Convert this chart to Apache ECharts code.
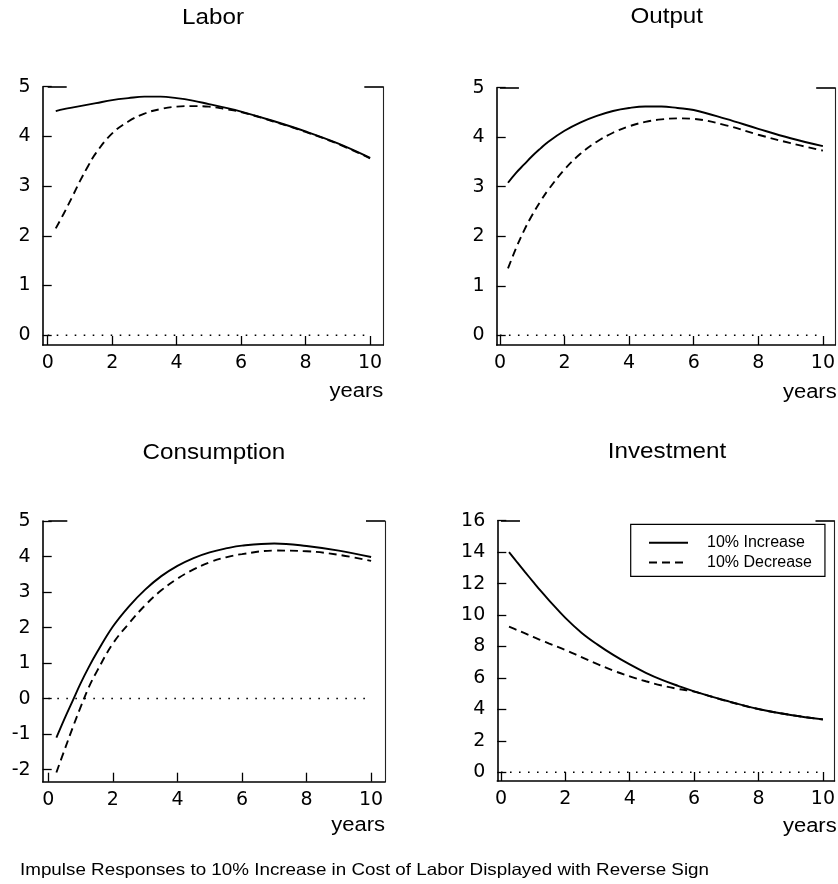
<!DOCTYPE html>
<html>
<head>
<meta charset="utf-8">
<script src="https://cdn.jsdelivr.net/npm/echarts@6/dist/echarts.min.js"></script>
<style>
html,body{margin:0;padding:0;background:#fff;}
#chart{width:838px;height:884px;}
</style>
</head>
<body>
<div id="chart"></div>
<script>
// ---- data ----
const years = [0.25, 0.5, 0.75, 1, 1.25, 1.5, 2, 2.5, 3, 3.5, 4, 4.5, 5, 5.5, 6, 7, 8, 9, 10];

const laborUp   = [4.51, 4.55, 4.58, 4.61, 4.64, 4.67, 4.73, 4.77, 4.80, 4.80, 4.77, 4.72, 4.65, 4.58, 4.50, 4.31, 4.10, 3.86, 3.57];
const laborDown = [2.15, 2.45, 2.77, 3.10, 3.40, 3.67, 4.06, 4.30, 4.46, 4.55, 4.60, 4.61, 4.60, 4.55, 4.49, 4.30, 4.09, 3.85, 3.56];

const outputUp   = [3.08, 3.28, 3.45, 3.62, 3.77, 3.91, 4.13, 4.30, 4.43, 4.53, 4.59, 4.62, 4.62, 4.59, 4.55, 4.37, 4.17, 3.98, 3.82];
const outputDown = [1.35, 1.76, 2.12, 2.43, 2.70, 2.94, 3.35, 3.67, 3.91, 4.09, 4.22, 4.31, 4.36, 4.38, 4.37, 4.24, 4.05, 3.88, 3.73];

const consUp   = [-1.10, -0.57, -0.07, 0.43, 0.88, 1.29, 2.03, 2.60, 3.07, 3.45, 3.74, 3.96, 4.12, 4.23, 4.31, 4.37, 4.30, 4.17, 3.99];
const consDown = [-2.08, -1.45, -0.83, -0.24, 0.31, 0.76, 1.55, 2.12, 2.63, 3.05, 3.38, 3.64, 3.84, 3.98, 4.07, 4.17, 4.15, 4.05, 3.88];

const invUp   = [14.0, 13.36, 12.73, 12.11, 11.50, 10.92, 9.82, 8.88, 8.12, 7.45, 6.86, 6.33, 5.88, 5.50, 5.15, 4.55, 4.03, 3.65, 3.37];
const invDown = [9.26, 9.05, 8.83, 8.61, 8.40, 8.19, 7.78, 7.33, 6.88, 6.46, 6.10, 5.79, 5.52, 5.30, 5.13, 4.54, 4.02, 3.65, 3.36];

const zeroLineX = [0, 10];

const xTicks = [0, 2, 4, 6, 8, 10];
const yTicksLabor = [0, 1, 2, 3, 4, 5];
const yTicksOutput = [0, 1, 2, 3, 4, 5];
const yTicksCons = [-2, -1, 0, 1, 2, 3, 4, 5];
const yTicksInv = [0, 2, 4, 6, 8, 10, 12, 14, 16];

const titles = ['Labor', 'Output', 'Consumption', 'Investment'];
const legendNames = ['10% Increase', '10% Decrease'];
const xName = 'years';
const caption = 'Impulse Responses to 10% Increase in Cost of Labor Displayed with Reverse Sign';

// ---- layout / styles ----
const FONT = "'Liberation Sans', Arial, Helvetica, sans-serif";
const TICKFONT = "'DejaVu Sans', 'Liberation Sans', sans-serif";
const panels = [
  {up: laborUp,  down: laborDown,  ticks: yTicksLabor,  left: 42.7,  top: 86.7,  right: 383.3, bottom: 345,   xmin: -0.155, xmax: 10.41, ymin: -0.196, ymax: 5},
  {up: outputUp, down: outputDown, ticks: yTicksOutput, left: 496.7, top: 87.7,  right: 836.7, bottom: 345,   xmin: -0.10,  xmax: 10.38, ymin: -0.196, ymax: 5},
  {up: consUp,   down: consDown,   ticks: yTicksCons,   left: 42.7,  top: 521.1, right: 385,   bottom: 781.7, xmin: -0.174, xmax: 10.43, ymin: -2.34,  ymax: 5},
  {up: invUp,    down: invDown,    ticks: yTicksInv,    left: 497.3, top: 520.7, right: 836.7, bottom: 781,   xmin: -0.114, xmax: 10.36, ymin: -0.55,  ymax: 16}
];
const titleY = [18, 17, 453, 452];
const yearsY = [391, 392, 825, 826];

const grid = [], xAxis = [], yAxis = [], series = [], graphic = [];
const lineW = 1.9;

panels.forEach((p, i) => {
  grid.push({left: p.left, top: p.top, width: p.right - p.left, height: p.bottom - p.top, containLabel: false});
  xAxis.push({
    type: 'value', gridIndex: i, min: p.xmin, max: p.xmax,
    splitLine: {show: false},
    axisLine: {show: true, onZero: false, lineStyle: {color: '#000', width: 1.6}},
    axisTick: {show: true, inside: true, length: 9, customValues: xTicks, lineStyle: {color: '#000', width: 1.3}},
    axisLabel: {show: true, customValues: xTicks, margin: 9, fontSize: 19, color: '#000', fontFamily: TICKFONT}
  });
  yAxis.push({
    type: 'value', gridIndex: i, min: p.ymin, max: p.ymax, position: 'left',
    splitLine: {show: false},
    axisLine: {show: true, onZero: false, lineStyle: {color: '#000', width: 1.6}},
    axisTick: {show: true, inside: true, length: 9, customValues: p.ticks, lineStyle: {color: '#000', width: 1.3}},
    axisLabel: {show: true, customValues: p.ticks, margin: 12, fontSize: 19, color: '#000', fontFamily: TICKFONT}
  });
  yAxis.push({
    type: 'value', gridIndex: i, min: p.ymin, max: p.ymax, position: 'left',
    splitLine: {show: false}, axisLine: {show: false}, axisLabel: {show: false},
    axisTick: {show: true, inside: true, length: 19, customValues: [p.ymax], lineStyle: {color: '#000', width: 1.6}}
  });
  yAxis.push({
    type: 'value', gridIndex: i, min: p.ymin, max: p.ymax, position: 'right',
    splitLine: {show: false}, axisLabel: {show: false},
    axisLine: {show: true, onZero: false, lineStyle: {color: '#222', width: 1.1}},
    axisTick: {show: true, inside: true, length: 19, customValues: [p.ymax], lineStyle: {color: '#000', width: 1.6}}
  });
  const yi = i * 3;
  series.push({
    name: legendNames[0], type: 'line', xAxisIndex: i, yAxisIndex: yi,
    data: years.map((x, k) => [x, p.up[k]]),
    symbol: 'none', smooth: 0.4,
    lineStyle: {color: '#000', width: lineW, type: 'solid'}, itemStyle: {color: '#000'}
  });
  series.push({
    name: legendNames[1], type: 'line', xAxisIndex: i, yAxisIndex: yi,
    data: years.map((x, k) => [x, p.down[k]]),
    symbol: 'none', smooth: 0.4,
    lineStyle: {color: '#000', width: lineW, type: [8, 5]}, itemStyle: {color: '#000'}
  });
  series.push({
    name: 'zero', type: 'line', xAxisIndex: i, yAxisIndex: yi,
    data: zeroLineX.map(x => [x, 0]),
    symbol: 'none', lineStyle: {color: '#000', width: 1.5, type: [1.6, 7.4]}, silent: true
  });
  const cx = (p.left + p.right) / 2;
  graphic.push({type: 'text', x: cx, y: titleY[i], scaleX: 1.1,
    style: {text: titles[i], x: 0, y: 0, align: 'center', verticalAlign: 'middle', fontSize: 22, fontFamily: FONT, fill: '#000'}});
  graphic.push({type: 'text', x: p.right, y: yearsY[i], scaleX: 1.1,
    style: {text: xName, x: 0, y: 0, align: 'right', verticalAlign: 'middle', fontSize: 20, fontFamily: FONT, fill: '#000'}});
});

graphic.push({type: 'text', x: 20, y: 870, scaleX: 1.14,
  style: {text: caption, x: 0, y: 0, align: 'left', verticalAlign: 'middle', fontSize: 16.5, fontFamily: FONT, fill: '#000'}});

const chart = echarts.init(document.getElementById('chart'), null, {renderer: 'canvas'});
chart.setOption({
  animation: false,
  backgroundColor: '#fff',
  grid, xAxis, yAxis, series, graphic,
  legend: {
    data: legendNames,
    orient: 'vertical',
    left: 630.7, top: 524.3,
    padding: [10.5, 13, 5.8, 17.3],
    itemWidth: 39, itemHeight: 14, itemGap: 3.7,
    backgroundColor: '#fff',
    borderColor: '#000', borderWidth: 1.2, borderRadius: 0,
    selectedMode: false,
    itemStyle: {opacity: 0},
    textStyle: {fontSize: 16, lineHeight: 15, color: '#000', fontFamily: FONT, padding: [0, 0, 0, 14]}
  }
});
</script>
</body>
</html>
